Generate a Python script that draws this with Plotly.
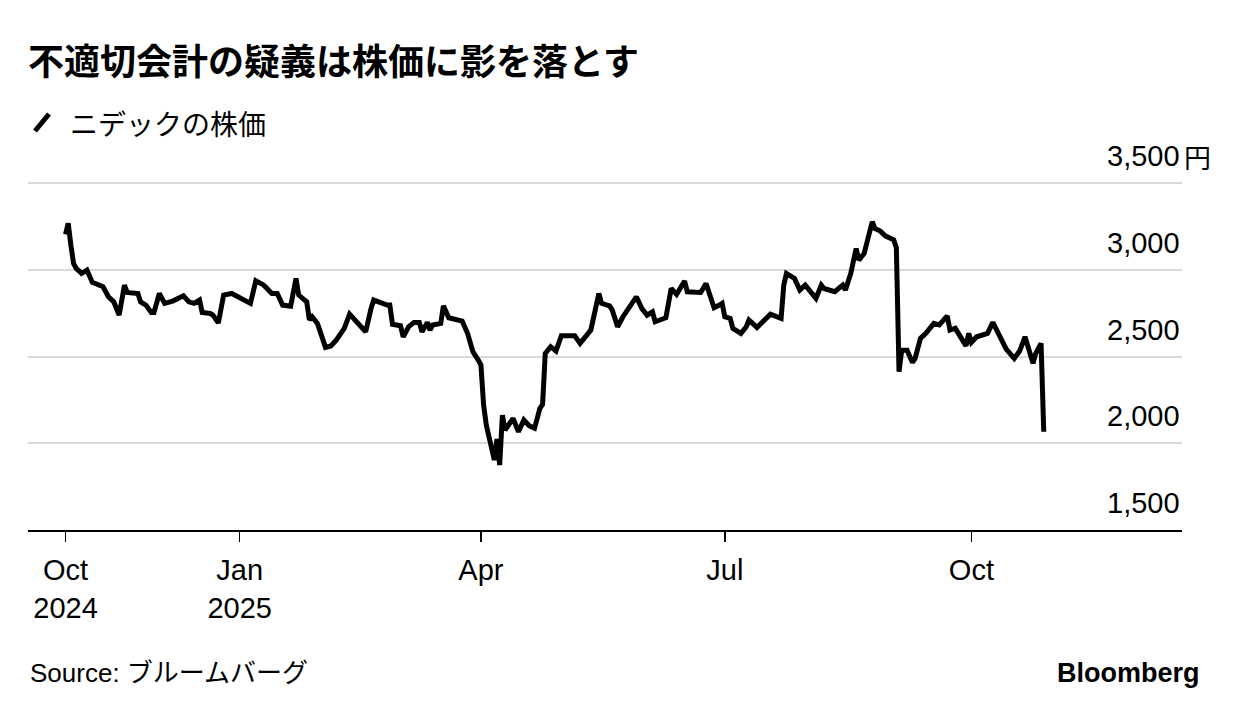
import plotly.graph_objects as go

# ---- data ----
dates = [
    "2024-10-28", "2024-10-29", "2024-10-30", "2024-10-31", "2024-11-01", "2024-11-03",
    "2024-11-05", "2024-11-06", "2024-11-07", "2024-11-09", "2024-11-11", "2024-11-13",
    "2024-11-15", "2024-11-17", "2024-11-19", "2024-11-20", "2024-11-24", "2024-11-25",
    "2024-11-27", "2024-11-29", "2024-11-30", "2024-12-02", "2024-12-04", "2024-12-07",
    "2024-12-11", "2024-12-13", "2024-12-15", "2024-12-17", "2024-12-18", "2024-12-21",
    "2024-12-22", "2024-12-24", "2024-12-26", "2024-12-29", "2025-01-05", "2025-01-07",
    "2025-01-10", "2025-01-13", "2025-01-15", "2025-01-17", "2025-01-20", "2025-01-22",
    "2025-01-23", "2025-01-26", "2025-01-27", "2025-01-28", "2025-01-30", "2025-02-02",
    "2025-02-04", "2025-02-06", "2025-02-09", "2025-02-11", "2025-02-17", "2025-02-19",
    "2025-02-20", "2025-02-25", "2025-02-26", "2025-02-27", "2025-03-02", "2025-03-03",
    "2025-03-05", "2025-03-07", "2025-03-09", "2025-03-10", "2025-03-12", "2025-03-13",
    "2025-03-14", "2025-03-17", "2025-03-18", "2025-03-20", "2025-03-23", "2025-03-25",
    "2025-03-27", "2025-03-29", "2025-03-31", "2025-04-01", "2025-04-02", "2025-04-03",
    "2025-04-06", "2025-04-07", "2025-04-08", "2025-04-09", "2025-04-10", "2025-04-13",
    "2025-04-15", "2025-04-17", "2025-04-19", "2025-04-21", "2025-04-23", "2025-04-24",
    "2025-04-25", "2025-04-27", "2025-04-29", "2025-05-01", "2025-05-06", "2025-05-08",
    "2025-05-12", "2025-05-14", "2025-05-15", "2025-05-16", "2025-05-19", "2025-05-20",
    "2025-05-22", "2025-05-24", "2025-05-29", "2025-05-31", "2025-06-02", "2025-06-04",
    "2025-06-05", "2025-06-09", "2025-06-11", "2025-06-13", "2025-06-16", "2025-06-17",
    "2025-06-19", "2025-06-22", "2025-06-24", "2025-06-27", "2025-06-29", "2025-06-30",
    "2025-07-01", "2025-07-03", "2025-07-04", "2025-07-07", "2025-07-09", "2025-07-10",
    "2025-07-13", "2025-07-15", "2025-07-18", "2025-07-22", "2025-07-23", "2025-07-24",
    "2025-07-27", "2025-07-29", "2025-07-31", "2025-08-04", "2025-08-06", "2025-08-07",
    "2025-08-11", "2025-08-14", "2025-08-15", "2025-08-17", "2025-08-19", "2025-08-20",
    "2025-08-22", "2025-08-25", "2025-08-26", "2025-08-28", "2025-08-30", "2025-09-02",
    "2025-09-03", "2025-09-04", "2025-09-05", "2025-09-07", "2025-09-09", "2025-09-10",
    "2025-09-12", "2025-09-14", "2025-09-17", "2025-09-19", "2025-09-22", "2025-09-23",
    "2025-09-25", "2025-09-29", "2025-09-30", "2025-10-01", "2025-10-03", "2025-10-07",
    "2025-10-09", "2025-10-14", "2025-10-17", "2025-10-19", "2025-10-21", "2025-10-24",
    "2025-10-25", "2025-10-27", "2025-10-28",
]
prices = [
    3206, 3270, 3144, 3039, 3010, 2981,
    3000, 2961, 2929, 2917, 2904, 2846,
    2817, 2740, 2913, 2871, 2865, 2817,
    2798, 2756, 2756, 2865, 2808, 2821,
    2852, 2817, 2808, 2827, 2756, 2750,
    2740, 2695, 2856, 2865, 2808, 2938,
    2913, 2865, 2865, 2798, 2792, 2952,
    2856, 2817, 2712, 2731, 2692, 2554,
    2562, 2596, 2664, 2746, 2644, 2779,
    2827, 2798, 2798, 2687, 2679, 2615,
    2673, 2698, 2698, 2644, 2698, 2654,
    2683, 2692, 2794, 2725, 2717, 2706,
    2635, 2529, 2481, 2452, 2221, 2106,
    1904, 2025, 1875, 2163, 2077, 2144,
    2067, 2135, 2102, 2087, 2202, 2225,
    2519, 2558, 2533, 2621, 2621, 2577,
    2654, 2788, 2865, 2808, 2794, 2769,
    2673, 2731, 2846, 2779, 2740, 2759,
    2702, 2725, 2894, 2860, 2937, 2875,
    2871, 2871, 2923, 2783, 2798, 2808,
    2731, 2721, 2664, 2635, 2673, 2712,
    2669, 2702, 2746, 2721, 2913, 2981,
    2952, 2885, 2913, 2837, 2913, 2894,
    2875, 2913, 2885, 2981, 3125, 3058,
    3096, 3279, 3240, 3225, 3196, 3175,
    3130, 2413, 2538, 2538, 2467, 2490,
    2606, 2635, 2692, 2683, 2736, 2654,
    2664, 2563, 2635, 2583, 2615, 2635,
    2698, 2544, 2490, 2533, 2615, 2462,
    2519, 2577, 2067,
]

x_tick_vals = ["2024-10-28", "2025-01-01", "2025-04-01", "2025-07-01", "2025-10-01"]
x_tick_text = ["Oct<br>2024", "Jan<br>2025", "Apr", "Jul", "Oct"]
y_grid_vals = [2000, 2500, 3000, 3500]
y_label_vals = [1500, 2000, 2500, 3000, 3500]
y_label_text = ["1,500", "2,000", "2,500", "3,000", "3,500"]
y_unit = "円"

title_text = "不適切会計の疑義は株価に影を落とす"
legend_text = "ニデックの株価"
source_text = "Source: ブルームバーグ"
brand_text = "Bloomberg"

# ---- figure ----
LATIN = "Liberation Sans, Arimo, Noto Sans CJK JP, sans-serif"
CJK = "Noto Sans CJK JP, sans-serif"

W, H = 1240, 716
ML, MR, MT, MB = 28, 58, 180, 186
PW = W - ML - MR
PH = H - MT - MB

fig = go.Figure(
    go.Scatter(
        x=dates, y=prices, mode="lines",
        line=dict(color="#000000", width=5),
        hoverinfo="skip",
    )
)

fig.update_layout(
    width=W, height=H,
    margin=dict(l=ML, r=MR, t=MT, b=MB),
    paper_bgcolor="white", plot_bgcolor="white",
    showlegend=False,
    font=dict(family=LATIN, size=29, color="#000000"),
    title=dict(
        text="<b>" + title_text + "</b>",
        x=ML / W, xanchor="left", xref="container",
        y=1 - 62 / H, yanchor="middle", yref="container",
        font=dict(family=CJK, size=36, color="#000000"),
    ),
)

fig.update_xaxes(
    type="date",
    range=["2024-10-14", "2025-12-18 14:00"],
    tickmode="array", tickvals=x_tick_vals, ticktext=x_tick_text,
    ticks="outside", ticklen=10, tickwidth=1.5, tickcolor="#000000",
    ticklabelstandoff=3,
    showline=True, linecolor="#000000", linewidth=2,
    showgrid=False, zeroline=False,
    tickfont=dict(family=LATIN, size=29, color="#000000"),
)
fig.update_yaxes(
    range=[1500, 3520],
    tickmode="array", tickvals=y_grid_vals,
    showticklabels=False, ticks="",
    showgrid=True, gridcolor="#d9d9d9", gridwidth=2,
    zeroline=False, showline=False,
)

annotations = []
for v, t in zip(y_label_vals, y_label_text):
    annotations.append(dict(
        x=1, xref="paper", xanchor="right",
        y=v, yref="y", yanchor="middle", yshift=27,
        text=t, showarrow=False,
        font=dict(family=LATIN, size=29, color="#000000"),
    ))
annotations.append(dict(
    x=1, xref="paper", xanchor="left",
    y=y_label_vals[-1], yref="y", yanchor="middle", yshift=27,
    text=y_unit, showarrow=False,
    font=dict(family=CJK, size=27, color="#000000"),
))
# legend label
annotations.append(dict(
    x=(68 - ML) / PW, xref="paper", xanchor="left",
    y=(H - MB - 123) / PH, yref="paper", yanchor="middle",
    text=legend_text, showarrow=False,
    font=dict(family=CJK, size=28, color="#000000"),
))
# source + brand
annotations.append(dict(
    x=0, xref="paper", xanchor="left",
    y=(H - MB - 673) / PH, yref="paper", yanchor="middle",
    text=source_text, showarrow=False,
    font=dict(family=LATIN, size=26, color="#000000"),
))
annotations.append(dict(
    x=(1202 - ML) / PW, xref="paper", xanchor="right",
    y=(H - MB - 673) / PH, yref="paper", yanchor="middle",
    text="<b>" + brand_text + "</b>", showarrow=False,
    font=dict(family=LATIN, size=27, color="#000000"),
))
fig.update_layout(annotations=annotations)

# legend swatch (slanted stroke)
fig.add_shape(
    type="line", xref="paper", yref="paper",
    x0=(35 - ML) / PW, y0=(H - MB - 131) / PH,
    x1=(49 - ML) / PW, y1=(H - MB - 114) / PH,
    line=dict(color="#000000", width=5),
)

fig.write_html(
    "out.html",
    config={"displayModeBar": False, "staticPlot": True},
    post_script="document.body.style.margin='0px';",
)
